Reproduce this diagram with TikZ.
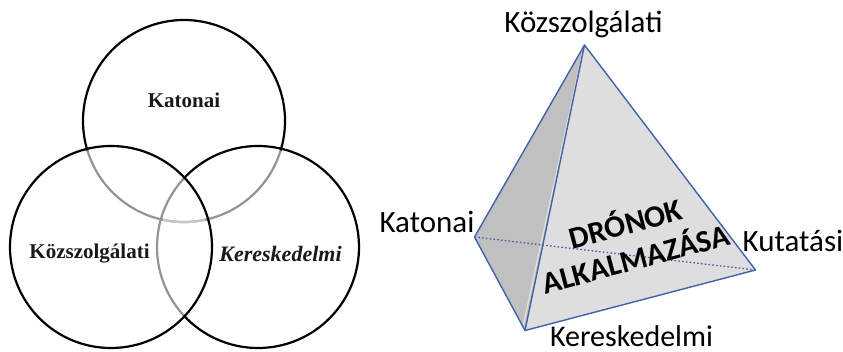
\documentclass[tikz,border=0pt]{standalone}
\usepackage{fontspec}
\setmainfont{Carlito}
\newfontfamily\venn{Liberation Serif}
\definecolor{edgeblue}{HTML}{3F62A8}
\definecolor{darkface}{HTML}{C0C0C0}
\definecolor{lightface}{HTML}{DEDEDE}
\definecolor{paleline}{HTML}{E4E4D8}
\tikzset{
  ring/.style={circle,minimum size=202pt,inner sep=0pt},
  ringline/.style={line width=2.2pt,draw=black},
  grayarc/.style={line width=2.2pt,draw=black!42},
  paler/.style={line width=2.2pt,draw=black!22},
  vennlabel/.style={font=\venn\fontsize{21}{23}\selectfont\bfseries,text=black!90},
  pyrlabel/.style={font=\fontsize{31}{34}\selectfont,text=black,inner sep=0pt},
  pyredge/.style={draw=edgeblue,line width=1.4pt,line join=round},
  hidden/.style={draw=edgeblue,line width=1.3pt,dash pattern=on 1.6pt off 2.2pt},
  inner/.style={font=\fontsize{31}{34}\selectfont\bfseries,rotate=15,inner sep=0pt,text=black}
}
\begin{document}
\begin{tikzpicture}[x=1pt,y=1pt]
\useasboundingbox (0,0) rectangle (843,351);
% Venn
\node[ring] (top) at (184,230) {};
\node[ring] (right) at (258,104) {};
\node[ring] (left) at (111,104) {};
\draw[grayarc] ([shift={(197:101pt)}]top.center) arc (197:343:101pt);
\draw[paler] ([shift={(258:101pt)}]top.center) arc (258:282:101pt);
\draw[grayarc] ([shift={(137:101pt)}]right.center) arc (137:223:101pt);
\draw[ringline] ([shift={(-17:101pt)}]top.center) arc (-17:197:101pt);
\draw[ringline] ([shift={(223:101pt)}]right.center) arc (223:497:101pt);
\draw[ringline] (left) circle (101pt);
\node[vennlabel] (vk) at (184,251) {Katonai};
\node[vennlabel] (vo) at (89.5,97) {Közszolgálati};
\node[vennlabel,font=\venn\fontsize{22}{24}\selectfont\bfseries\itshape] (vc) at (280.5,97) {Kereskedelmi};
% Pyramid
\coordinate (A) at (584.5,306);
\coordinate (K) at (474.5,114);
\coordinate (B) at (525,20.5);
\coordinate (R) at (755.5,81);
\path[fill=darkface] (A) -- (K) -- (B) -- cycle;
\path[fill=lightface] (A) -- (B) -- (R) -- cycle;
\draw[paleline,line width=1.2pt] ([xshift=-1.6pt,yshift=-6pt]A) -- ([xshift=-1.6pt,yshift=6pt]B);
\draw[hidden] (K) -- (R);
\draw[pyredge] (A) -- (K) -- (B) -- (R) -- cycle;
\draw[pyredge] (A) -- (B);
\node[pyrlabel] (pa) at (583.5,327) {Közszolgálati};
\node[pyrlabel] (pk) at (427,129) {Katonai};
\node[pyrlabel] (pr) at (793,110) {Kutatási};
\node[pyrlabel,font=\fontsize{30}{33}\selectfont] (pb) at (631.5,15) {Kereskedelmi};
\node[inner] (t1) at (625,129) {DRÓNOK};
\node[inner] (t2) at (635,94) {ALKALMAZÁSA};
\end{tikzpicture}
\end{document}
